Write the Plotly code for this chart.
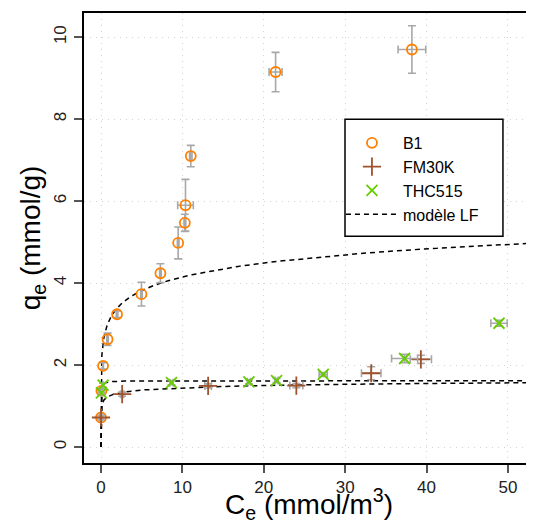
import numpy as np
import plotly.graph_objects as go

# ---- data ----
b1_x  = [0.0, 0.05, 0.25, 0.8, 1.97, 4.97, 7.3, 9.48, 10.3, 10.38, 11.03, 21.45, 38.2]
b1_y  = [0.72, 1.37, 1.98, 2.63, 3.24, 3.73, 4.24, 4.98, 5.47, 5.9, 7.1, 9.15, 9.7]
b1_ex = [0.0, 0.0, 0.05, 0.1, 0.1, 0.1, 0.1, 0.1, 0.1, 0.96, 0.15, 0.8, 1.7]
b1_ey = [0.05, 0.05, 0.08, 0.15, 0.08, 0.29, 0.23, 0.39, 0.21, 0.63, 0.26, 0.48, 0.58]

fm_x  = [0.0, 2.6, 13.16, 24.0, 33.2, 39.3]
fm_y  = [0.72, 1.29, 1.49, 1.5, 1.8, 2.14]
fm_ex = [0.2, 0.2, 0.4, 0.8, 1.2, 1.3]
fm_ey = [0.05, 0.05, 0.05, 0.05, 0.16, 0.1]

thc_x  = [0.05, 0.25, 8.66, 18.17, 21.57, 27.3, 37.3, 48.9]
thc_y  = [1.32, 1.51, 1.57, 1.59, 1.62, 1.77, 2.16, 3.02]
thc_ex = [0.05, 0.05, 0.2, 0.2, 0.2, 0.5, 1.6, 1.0]
thc_ey = [0.05, 0.05, 0.05, 0.05, 0.05, 0.05, 0.1, 0.07]

# Langmuir-Freundlich model parameters (qm, K, n) per material
lf_params = {
    "B1": (10.0, 0.018, 0.2),
    "FM30K": (2.0, 12.2, 0.2),
    "THC515": (1.62, 50.0, 1.0),
}

x_ticks = [0, 10, 20, 30, 40, 50]
y_ticks = [0, 2, 4, 6, 8, 10]

ERR_COL = "#A8A8A8"
FONT = "Liberation Sans, Arial, sans-serif"

def lf(c, qm, k, n):
    u = np.power(k * c, n)
    return qm * u / (1 + u)

fig = go.Figure()

c_grid = np.linspace(0, 56, 2241)
first = True
for name, (qm, k, n) in lf_params.items():
    fig.add_trace(go.Scatter(
        x=c_grid, y=lf(c_grid, qm, k, n), mode="lines",
        line=dict(color="black", width=1.5, dash="5px,4px"),
        name="modèle LF", showlegend=first, legendrank=4,
        hoverinfo="skip"))
    first = False

def err(arr):
    return dict(type="data", array=arr, visible=True, color=ERR_COL, thickness=1.6, width=4)

fig.add_trace(go.Scatter(
    x=b1_x, y=b1_y, mode="markers", name="B1", legendrank=1,
    error_x=err(b1_ex), error_y=err(b1_ey),
    marker=dict(symbol="circle-open", size=10, color="#FF7F00", line=dict(width=1.8, color="#FF7F00"))))
fig.add_trace(go.Scatter(
    x=fm_x, y=fm_y, mode="markers", name="FM30K", legendrank=2,
    error_x=err(fm_ex), error_y=err(fm_ey),
    marker=dict(symbol="cross-thin-open", size=13, color="#A0522D", line=dict(width=1.8, color="#A0522D"))))
fig.add_trace(go.Scatter(
    x=thc_x, y=thc_y, mode="markers", name="THC515", legendrank=3,
    error_x=err(thc_ex), error_y=err(thc_ey),
    marker=dict(symbol="x-thin-open", size=11, color="#66CD00", line=dict(width=1.8, color="#66CD00"))))

axis_common = dict(
    showgrid=True, gridcolor="#D3D3D3", gridwidth=1, griddash="1px,5px",
    zeroline=False, ticks="outside", ticklen=8, tickwidth=1.5, tickcolor="#555555",
    showline=True, linecolor="black", linewidth=2, automargin=False,
    tickfont=dict(family=FONT, size=17, color="#222222"),
)

# legend frame (paper coords of the plot area)
fig.add_shape(type="rect", xref="paper", yref="paper",
              x0=0.58, x1=0.931, y0=0.504, y1=0.764,
              line=dict(color="black", width=1.5), fillcolor="white", layer="above")

# the page body adds an 8px offset, so the figure is 8px smaller than the window
fig.update_layout(
    width=526, height=516,
    margin=dict(l=76, r=0, t=5, b=61),
    paper_bgcolor="white", plot_bgcolor="white",
    font=dict(family=FONT, color="black"),
    xaxis=dict(range=[-2.09, 53.2], tickvals=x_ticks, mirror=True,
               title=dict(text="C<sub>e</sub> (mmol/m<sup>3</sup>)", font=dict(size=28), standoff=6),
               **axis_common),
    yaxis=dict(range=[-0.39, 10.59], tickvals=y_ticks, tickangle=-90, ticklabelstandoff=1,
               title=dict(text="q<sub>e</sub> (mmol/g)", font=dict(size=28), standoff=2),
               **axis_common),
    legend=dict(x=0.571, y=0.749, xanchor="left", yanchor="top",
                bgcolor="rgba(0,0,0,0)", borderwidth=0,
                font=dict(size=16), itemwidth=52, tracegroupgap=0),
    showlegend=True,
)

fig.write_html("out.html")
